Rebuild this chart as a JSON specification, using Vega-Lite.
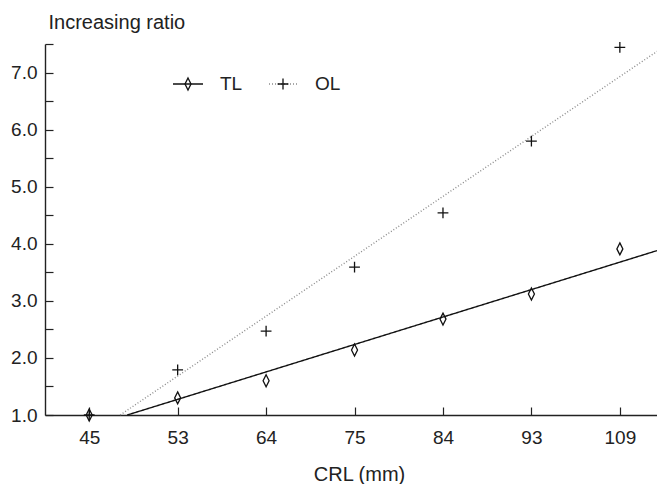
{
  "$schema": "https://vega.github.io/schema/vega-lite/v6.json",
  "width": 612,
  "height": 371,
  "autosize": {"type": "none"},
  "padding": {"left": 45, "top": 44, "right": 0, "bottom": 69},
  "background": "white",
  "config": {
    "view": {"stroke": null},
    "font": "Liberation Sans",
    "axis": {
      "grid": false,
      "domainColor": "#222222",
      "domainWidth": 1.4,
      "tickColor": "#222222",
      "tickWidth": 1.2,
      "labelColor": "#222222",
      "titleColor": "#222222",
      "labelFontSize": 19,
      "titleFontSize": 19,
      "titleFontWeight": "normal",
      "labelOverlap": false,
      "labelFlush": false
    }
  },
  "datasets": {
    "points": [
      {"series": "TL", "idx": 0, "crl": 45, "ratio": 1.0},
      {"series": "TL", "idx": 1, "crl": 53, "ratio": 1.30},
      {"series": "TL", "idx": 2, "crl": 64, "ratio": 1.60},
      {"series": "TL", "idx": 3, "crl": 75, "ratio": 2.14},
      {"series": "TL", "idx": 4, "crl": 84, "ratio": 2.68},
      {"series": "TL", "idx": 5, "crl": 93, "ratio": 3.12},
      {"series": "TL", "idx": 6, "crl": 109, "ratio": 3.91},
      {"series": "OL", "idx": 0, "crl": 45, "ratio": 1.0},
      {"series": "OL", "idx": 1, "crl": 53, "ratio": 1.79},
      {"series": "OL", "idx": 2, "crl": 64, "ratio": 2.47},
      {"series": "OL", "idx": 3, "crl": 75, "ratio": 3.59},
      {"series": "OL", "idx": 4, "crl": 84, "ratio": 4.54},
      {"series": "OL", "idx": 5, "crl": 93, "ratio": 5.80},
      {"series": "OL", "idx": 6, "crl": 109, "ratio": 7.44}
    ],
    "fits": [
      {"series": "TL", "idx": 0.43, "ratio": 1.0},
      {"series": "TL", "idx": 6.42, "ratio": 3.88},
      {"series": "OL", "idx": 0.35, "ratio": 1.0},
      {"series": "OL", "idx": 6.42, "ratio": 7.37}
    ]
  },
  "resolve": {"axis": {"x": "independent", "y": "independent"}},
  "layer": [
    {
      "data": {"name": "fits"},
      "mark": {"type": "line", "clip": false, "strokeWidth": 1.4},
      "encoding": {
        "x": {
          "field": "idx",
          "type": "quantitative",
          "scale": {"domain": [-0.5, 6.42], "nice": false, "zero": false},
          "axis": {
            "orient": "bottom",
            "values": [0, 1, 2, 3, 4, 5, 6],
            "labelExpr": "['45','53','64','75','84','93','109'][datum.value]",
            "ticks": false,
            "tickSize": 0,
            "labelPadding": 13,
            "title": "CRL (mm)",
            "titleFontSize": 20,
            "titleX": 314,
            "titleY": 65,
            "titleAlign": "center",
            "titleBaseline": "alphabetic"
          }
        },
        "y": {
          "field": "ratio",
          "type": "quantitative",
          "scale": {"domain": [1, 7.5], "nice": false, "zero": false},
          "axis": {
            "orient": "left",
            "values": [1, 2, 3, 4, 5, 6, 7],
            "format": ".1f",
            "ticks": false,
            "tickSize": 0,
            "labelPadding": 8,
            "title": "Increasing ratio",
            "titleFontSize": 20,
            "titleAngle": 0,
            "titleAlign": "left",
            "titleBaseline": "alphabetic",
            "titleX": 3,
            "titleY": -16
          }
        },
        "color": {
          "field": "series",
          "type": "nominal",
          "sort": null,
          "scale": {"range": ["#111111", "#8c8c8c"]},
          "legend": {
            "orient": "none", "legendX": 127, "legendY": 24, "direction": "horizontal",
            "title": null, "symbolType": "stroke", "symbolSize": 900, "padding": 0,
            "labelFontSize": 19, "labelOffset": 16, "columnPadding": 46, "labelExpr": "''",
            "symbolStrokeWidth": 1.4
          }
        },
        "strokeDash": {
          "field": "series",
          "type": "nominal",
          "sort": null,
          "scale": {"range": [[1, 0], [1, 2]]},
          "legend": {
            "orient": "none", "legendX": 127, "legendY": 24, "direction": "horizontal",
            "title": null, "symbolType": "stroke", "symbolSize": 900, "padding": 0,
            "labelFontSize": 19, "labelOffset": 16, "columnPadding": 46, "labelExpr": "''",
            "symbolStrokeWidth": 1.4
          }
        }
      }
    },
    {
      "data": {"name": "points"},
      "mark": {"type": "point", "filled": false, "size": 900, "stroke": "#111111", "strokeWidth": 1.3, "opacity": 1, "clip": false},
      "encoding": {
        "x": {
          "field": "idx",
          "type": "quantitative",
          "axis": {
            "orient": "top",
            "offset": -371,
            "values": [0, 1, 2, 3, 4, 5, 6],
            "labels": false,
            "domain": false,
            "ticks": true,
            "tickSize": 8,
            "title": null
          }
        },
        "y": {
          "field": "ratio",
          "type": "quantitative",
          "axis": {
            "orient": "right",
            "offset": -612,
            "values": [1, 1.5, 2, 2.5, 3, 3.5, 4, 4.5, 5, 5.5, 6, 6.5, 7, 7.5],
            "labels": false,
            "domain": false,
            "ticks": true,
            "tickSize": 8,
            "title": null
          }
        },
        "shape": {
          "field": "series",
          "type": "nominal",
          "scale": {
            "domain": ["TL", "OL"],
            "range": ["M0,-0.4L0.2,0L0,0.4L-0.2,0Z", "M-0.36,0L0.36,0M0,-0.36L0,0.36"]
          },
          "legend": {
            "orient": "none", "legendX": 127, "legendY": 24, "direction": "horizontal",
            "title": null, "symbolSize": 900, "padding": 0,
            "labelFontSize": 19, "labelOffset": 16, "columnPadding": 24, "labelColor": "#222222",
            "symbolStrokeColor": "#111111", "symbolStrokeWidth": 1.3, "symbolFillColor": "white"
          }
        }
      }
    }
  ]
}
